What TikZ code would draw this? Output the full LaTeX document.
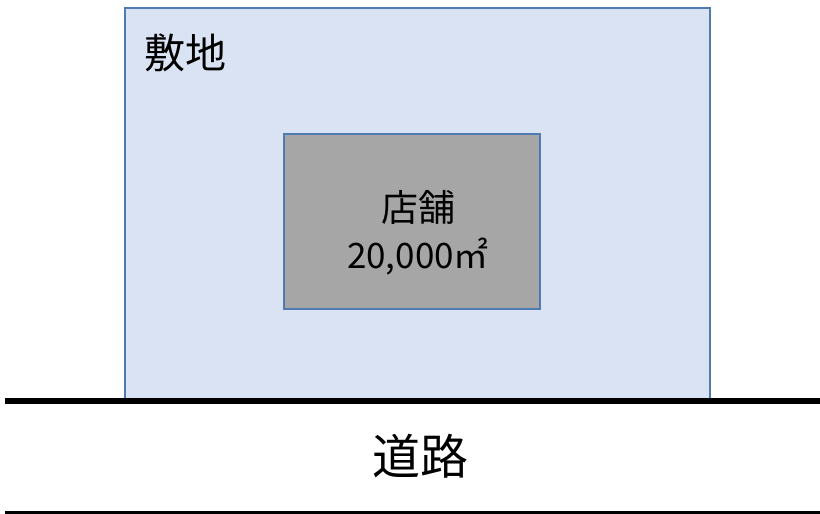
\documentclass[tikz,border=0pt]{standalone}
\usepackage{fontspec}
\setmainfont{Noto Sans CJK JP}
\definecolor{sitefill}{HTML}{DAE3F3}
\definecolor{edgeblue}{HTML}{4F7BB0}
\definecolor{shopfill}{HTML}{A6A6A6}
\begin{document}
\begin{tikzpicture}[x=1pt,y=-1pt,
  sitebox/.style={draw=edgeblue,fill=sitefill,line width=2pt},
  shopbox/.style={draw=edgeblue,fill=shopfill,line width=2pt},
  roadline/.style={draw=black,line width=6pt},
  lbl/.style={inner sep=0pt,text=black}]
\useasboundingbox (0,0) rectangle (820,514);
\filldraw[sitebox] (125,8) rectangle (710,399);
\filldraw[shopbox] (284,134) rectangle (540,309);
\coordinate (r1a) at (5,401);
\coordinate (r1b) at (820,401);
\coordinate (r2a) at (5,514);
\coordinate (r2b) at (820,514);
\draw[roadline] (r1a) -- (r1b);
\draw[roadline] (r2a) -- (r2b);
\node[lbl,font=\fontsize{41}{44}\selectfont,anchor=west] (site) at (144,53) {敷地};
\node[lbl,font=\fontsize{37}{40}\selectfont] (shop) at (418,207) {店舗};
\node[lbl,font=\fontsize{35}{38}\selectfont] (area) at (418,257) {20,000㎡};
\node[lbl,font=\fontsize{48}{50}\selectfont] (road) at (420,456) {道路};
\end{tikzpicture}
\end{document}
